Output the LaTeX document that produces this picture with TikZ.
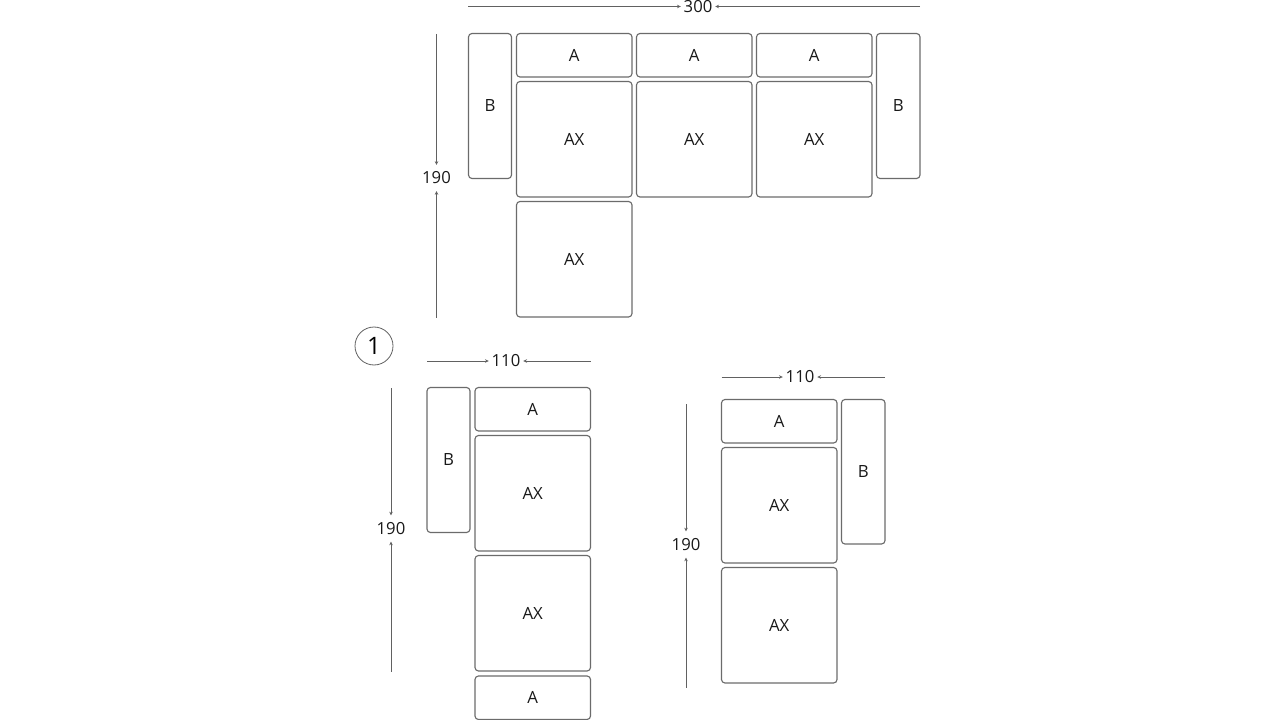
\documentclass[tikz,border=0pt]{standalone}
\usepackage{fontspec}
\setmainfont{Open Sans}
\usetikzlibrary{arrows.meta}
\newcommand{\seat}[6]{%
  \pgfmathsetmacro{\cxx}{(#2+#4)/2}\pgfmathsetmacro{\cyy}{(#3+#5)/2}%
  \pgfmathsetmacro{\ww}{#4-#2}\pgfmathsetmacro{\hh}{#5-#3}%
  \node[seatbox,minimum width=\ww*0.75pt,minimum height=\hh*0.75pt] (#1) at (\cxx,\cyy) {\raisebox{-0.4pt}{#6}};}
\tikzset{
  x=0.75pt,y=-0.75pt,
  seatbox/.style={draw=black!58,line width=0.85pt,rounded corners=2.6pt,inner sep=0pt,font=\fontsize{12.6}{14}\selectfont,text=black!90},
  dimlabel/.style={inner xsep=2pt,inner ysep=5pt,font=\fontsize{12.5}{14}\selectfont,text=black!90},
  dimline/.style={draw=black!62,line width=0.65pt,-{Stealth[length=2.8pt,width=2.6pt]}},
}
\begin{document}
\begin{tikzpicture}
\useasboundingbox (0,0) rectangle (1280,720);
% top group
\seat{tb1}{468.5}{33.5}{511.5}{178.5}{B}
\seat{ta1}{516.5}{33.5}{632}{77}{A}
\seat{ta2}{636.5}{33.5}{752}{77}{A}
\seat{ta3}{756.5}{33.5}{872}{77}{A}
\seat{tb2}{876.5}{33.5}{920}{178.5}{B}
\seat{tx1}{516.5}{81.5}{632}{197}{AX}
\seat{tx2}{636.5}{81.5}{752}{197}{AX}
\seat{tx3}{756.5}{81.5}{872}{197}{AX}
\seat{tx4}{516.5}{201.5}{632}{317}{AX}
% left group
\seat{lb}{427}{387.5}{470}{532.5}{B}
\seat{la1}{475}{387.5}{590.5}{431}{A}
\seat{lx1}{475}{435.5}{590.5}{551}{AX}
\seat{lx2}{475}{555.5}{590.5}{671}{AX}
\seat{la2}{475}{676}{590.5}{719.5}{A}
% right group
\seat{ra}{721.5}{399.5}{837}{443}{A}
\seat{rx1}{721.5}{447.5}{837}{563}{AX}
\seat{rx2}{721.5}{567.5}{837}{683}{AX}
\seat{rb}{841.5}{399.5}{885}{544}{B}
% circled number
\node[draw=black!62,line width=0.6pt,circle,minimum size=28.5pt,inner sep=0pt,font=\fontsize{18}{20}\selectfont] (num) at (374,346) {1};
% dimensions
\node[dimlabel] (d300) at (698,6.5) {300};
\coordinate (d300a) at (468,6.5); \coordinate (d300b) at (920,6.5);
\draw[dimline] (d300a) -- (d300);
\draw[dimline] (d300b) -- (d300);
\node[dimlabel] (v1) at (436.5,178) {190};
\coordinate (v1a) at (436.5,34); \coordinate (v1b) at (436.5,317.5);
\draw[dimline] (v1a) -- (v1);
\draw[dimline] (v1b) -- (v1);
\node[dimlabel] (d110l) at (506,361) {110};
\coordinate (d110la) at (427,361); \coordinate (d110lb) at (590.5,361);
\draw[dimline] (d110la) -- (d110l);
\draw[dimline] (d110lb) -- (d110l);
\node[dimlabel] (v2) at (391,528.5) {190};
\coordinate (v2a) at (391,388); \coordinate (v2b) at (391,671.5);
\draw[dimline] (v2a) -- (v2);
\draw[dimline] (v2b) -- (v2);
\node[dimlabel] (d110r) at (800,377) {110};
\coordinate (d110ra) at (721.5,377); \coordinate (d110rb) at (885,377);
\draw[dimline] (d110ra) -- (d110r);
\draw[dimline] (d110rb) -- (d110r);
\node[dimlabel] (v3) at (686,544.5) {190};
\coordinate (v3a) at (686,404); \coordinate (v3b) at (686,687.5);
\draw[dimline] (v3a) -- (v3);
\draw[dimline] (v3b) -- (v3);
\end{tikzpicture}
\end{document}
